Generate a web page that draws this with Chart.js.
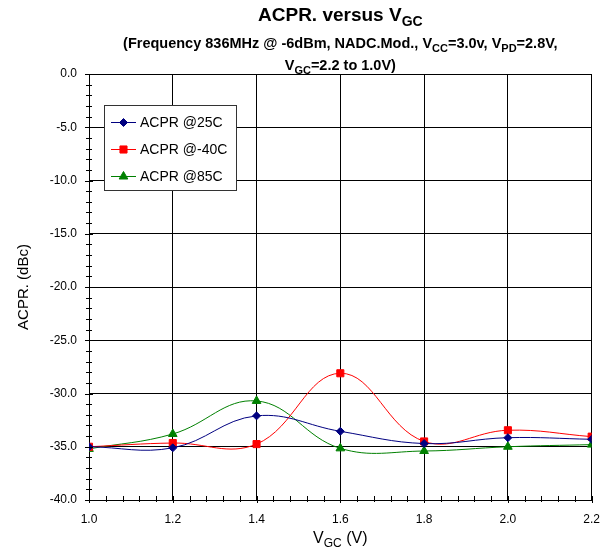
<!DOCTYPE html>
<html>
<head>
<meta charset="utf-8">
<script src="https://cdn.jsdelivr.net/npm/chart.js@4.4.1/dist/chart.umd.min.js"></script>
<style>
  html, body { margin: 0; padding: 0; background: #fff; }
  #wrap { width: 612px; height: 550px; }
</style>
</head>
<body>
<div id="wrap"><canvas id="acprChart" width="612" height="550"></canvas></div>
<script>
// data
const vgc = [1.0, 1.2, 1.4, 1.6, 1.8, 2.0, 2.2];
const acpr25 = [-35.0, -35.1, -32.1, -33.55, -34.7, -34.15, -34.3];
const acprM40 = [-35.0, -34.65, -34.75, -28.1, -34.5, -33.45, -34.05];
const acpr85 = [-35.2, -33.8, -30.7, -35.15, -35.4, -35.0, -34.8];
const seriesNames = ["ACPR @25C", "ACPR @-40C", "ACPR @85C"];

const FONT = "'Liberation Sans', Arial, sans-serif";

function toPoints(arr) {
    return vgc.map((v, i) => ({ x: v, y: arr[i] }));
}

// draws text made of parts [text, isSub]
function drawRich(ctx, parts, x, y, size, bold, align) {
    const w = bold ? "bold " : "";
    const subSize = Math.round(size * 0.75);
    let total = 0;
    parts.forEach(p => {
        ctx.font = w + (p[1] ? subSize : size) + "px " + FONT;
        total += ctx.measureText(p[0]).width;
    });
    let cx = align === "center" ? x - total / 2 : x;
    ctx.textAlign = "left";
    ctx.textBaseline = "alphabetic";
    parts.forEach(p => {
        ctx.font = w + (p[1] ? subSize : size) + "px " + FONT;
        ctx.fillText(p[0], cx, p[1] ? y + size * 0.25 : y);
        cx += ctx.measureText(p[0]).width;
    });
}

const decorPlugin = {
    id: "decor",
    afterDraw(chart) {
        const ctx = chart.ctx;
        const area = chart.chartArea;
        const xs = chart.scales.x, ys = chart.scales.y;
        ctx.save();
        ctx.fillStyle = "#000";
        const cx = (area.left + area.right) / 2;

        // titles
        drawRich(ctx, [["ACPR. versus V", false], ["GC", true]], cx, 21, 19, true, "center");
        drawRich(ctx, [["(Frequency 836MHz @ -6dBm, NADC.Mod., V", false], ["CC", true],
            ["=3.0v, V", false], ["PD", true], ["=2.8V,", false]], cx, 48, 14.5, true, "center");
        drawRich(ctx, [["V", false], ["GC", true], ["=2.2 to 1.0V)", false]], cx, 70, 14.5, true, "center");

        // axis titles
        drawRich(ctx, [["V", false], ["GC", true], [" (V)", false]], cx, 543, 16, false, "center");
        ctx.save();
        ctx.translate(28, (area.top + area.bottom) / 2);
        ctx.rotate(-Math.PI / 2);
        drawRich(ctx, [["ACPR. (dBc)", false]], 0, 0, 15, false, "center");
        ctx.restore();

        // tick marks (major + minor)
        ctx.strokeStyle = "#000";
        ctx.lineWidth = 1;
        ctx.beginPath();
        for (let v = -40; v <= 0; v += 1) {
            const py = Math.round(ys.getPixelForValue(v)) + 0.5;
            const major = v % 5 === 0;
            ctx.moveTo(area.left - (major ? 4 : 3), py);
            ctx.lineTo(area.left + (major ? 4 : 3), py);
        }
        for (let i = 0; i <= 30; i++) {
            const v = 1.0 + i * 0.04;
            const px = Math.round(xs.getPixelForValue(v)) + 0.5;
            const major = i % 5 === 0;
            ctx.moveTo(px, area.bottom - 4);
            ctx.lineTo(px, area.bottom + (major ? 3 : 2));
        }
        ctx.stroke();

        // legend box
        const lx = 104, ly = 105, lw = 132, lh = 85;
        ctx.fillStyle = "#fff";
        ctx.fillRect(lx, ly, lw, lh);
        ctx.strokeStyle = "#333";
        ctx.strokeRect(lx + 0.5, ly + 0.5, lw, lh);
        chart.data.datasets.forEach((ds, i) => {
            const rowY = 122 + i * 27;
            ctx.strokeStyle = ds.borderColor;
            ctx.fillStyle = ds.backgroundColor;
            ctx.lineWidth = 1;
            ctx.beginPath();
            ctx.moveTo(111, rowY + 0.5);
            ctx.lineTo(136, rowY + 0.5);
            ctx.stroke();
            Chart.helpers.drawPoint(ctx, {
                pointStyle: ds.pointStyle,
                radius: ds.pointRadius,
                rotation: 0,
                borderWidth: 1
            }, 123.5, rowY + 0.5);
            ctx.fillStyle = "#000";
            ctx.font = "14px " + FONT;
            ctx.textAlign = "left";
            ctx.textBaseline = "middle";
            ctx.fillText(ds.label, 140, rowY + 1);
        });
        ctx.restore();
    }
};

new Chart(document.getElementById("acprChart"), {
    type: "line",
    data: {
        datasets: [
            {
                label: seriesNames[0],
                data: toPoints(acpr25),
                borderColor: "#000080",
                backgroundColor: "#000080",
                pointStyle: "rectRot",
                pointRadius: 4,
                borderWidth: 1,
                tension: 0.4
            },
            {
                label: seriesNames[1],
                data: toPoints(acprM40),
                borderColor: "#ff0000",
                backgroundColor: "#ff0000",
                pointStyle: "rect",
                pointRadius: 5,
                borderWidth: 1,
                tension: 0.4
            },
            {
                label: seriesNames[2],
                data: toPoints(acpr85),
                borderColor: "#008000",
                backgroundColor: "#008000",
                pointStyle: "triangle",
                pointRadius: 5,
                borderWidth: 1,
                tension: 0.4
            }
        ]
    },
    options: {
        responsive: false,
        animation: false,
        layout: { padding: { top: 74, right: 20, left: 0, bottom: 0 } },
        plugins: {
            legend: { display: false },
            title: { display: false },
            tooltip: { enabled: false }
        },
        scales: {
            x: {
                type: "linear",
                min: 1.0,
                max: 2.2,
                ticks: {
                    stepSize: 0.2,
                    padding: 12,
                    color: "#000",
                    font: { family: FONT, size: 12 },
                    callback: v => v.toFixed(1)
                },
                grid: { color: "#000", lineWidth: 1, drawTicks: false },
                border: { color: "#000" },
                afterFit: s => { s.height = 50; }
            },
            y: {
                min: -40,
                max: 0,
                ticks: {
                    stepSize: 5,
                    padding: 12,
                    color: "#000",
                    font: { family: FONT, size: 12 },
                    callback: v => v.toFixed(1)
                },
                grid: { color: "#000", lineWidth: 1, drawTicks: false },
                border: { color: "#000" },
                afterFit: s => { s.width = 89; }
            }
        }
    },
    plugins: [decorPlugin]
});
</script>
</body>
</html>
